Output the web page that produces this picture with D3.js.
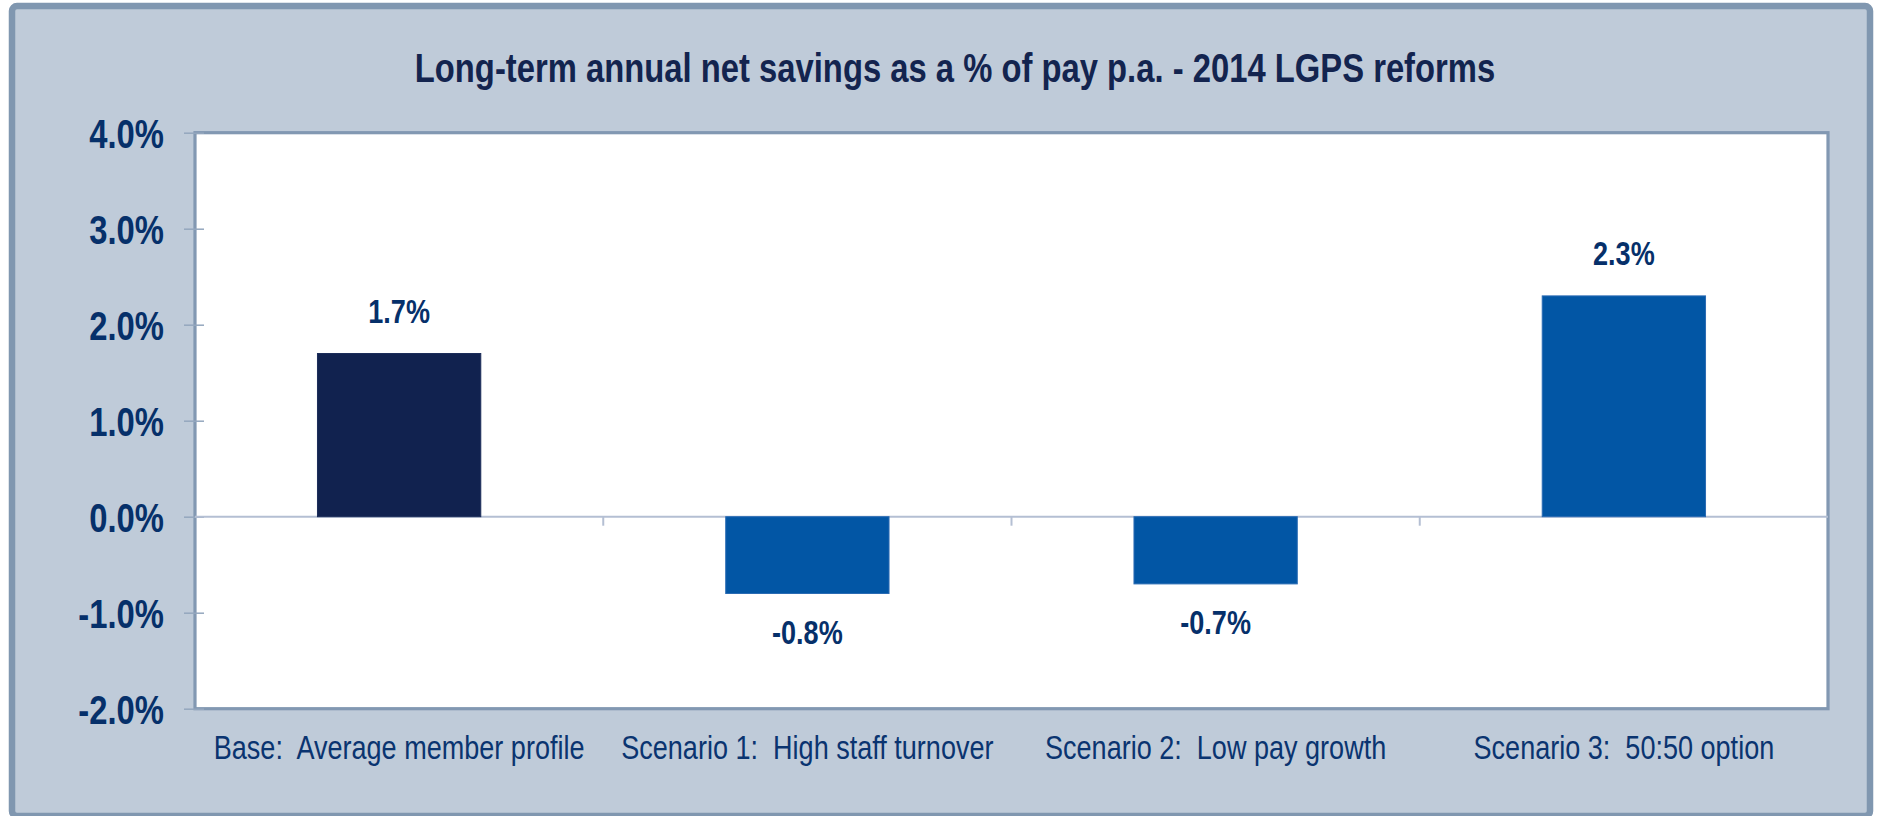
<!DOCTYPE html>
<html>
<head>
<meta charset="utf-8">
<script src="https://cdn.jsdelivr.net/npm/d3@7/dist/d3.min.js"></script>
<style>
  html, body { margin: 0; padding: 0; background: #ffffff; }
  svg { display: block; }
  text { font-family: "Liberation Sans", Arial, sans-serif; }
</style>
</head>
<body>
<svg id="chart" width="1878" height="816"></svg>
<script>
// Chart content
const title = "Long-term annual net savings as a % of pay p.a. - 2014 LGPS reforms";
const categories = [
  "Base:  Average member profile",
  "Scenario 1:  High staff turnover",
  "Scenario 2:  Low pay growth",
  "Scenario 3:  50:50 option"
];
const savings = [1.7, -0.8, -0.7, 2.3];          // % of pay p.a.
const yTicks = [4, 3, 2, 1, 0, -1, -2];          // axis ticks, %
const barColors = ["#11224f", "#0256a5", "#0256a5", "#0256a5"];

const svg = d3.select("#chart");
const plot = { left: 195, right: 1828, top: 132.7, bottom: 708.7 };
const NARROW = 0.82;   // horizontal squeeze giving a narrow sans face

const pct = d => d3.format(".1f")(d).replace("\u2212", "-") + "%";

// squeeze text horizontally about its anchor point
function condense(sel) {
  sel.each(function () {
    const t = d3.select(this);
    const tx = +t.attr("x") || 0, ty = +t.attr("y") || 0;
    t.attr("x", 0).attr("y", 0)
     .attr("transform", `translate(${tx},${ty}) scale(${NARROW},1)`);
  });
}

// outer panel
svg.append("rect")
  .attr("x", 12).attr("y", 6)
  .attr("width", 1858).attr("height", 810)
  .attr("rx", 5)
  .attr("fill", "#bfcbd9")
  .attr("stroke", "#8097b0")
  .attr("stroke-width", 6.5);

// title
svg.append("text")
  .attr("x", 955).attr("y", 82)
  .attr("text-anchor", "middle")
  .attr("font-weight", "bold")
  .attr("font-size", 40)
  .attr("fill", "#13244f")
  .text(title)
  .call(condense);

const x = d3.scaleBand()
  .domain(categories)
  .range([plot.left, plot.right])
  .paddingInner(0.6)
  .paddingOuter(0.3);

const y = d3.scaleLinear()
  .domain([-2, 4])
  .range([plot.bottom, plot.top]);

// plot area
svg.append("rect")
  .attr("x", plot.left).attr("y", plot.top)
  .attr("width", plot.right - plot.left)
  .attr("height", plot.bottom - plot.top)
  .attr("fill", "#ffffff")
  .attr("stroke", "#8298b2")
  .attr("stroke-width", 3.2);

// y axis ticks and labels
const yAxis = d3.axisLeft(y)
  .tickValues(yTicks)
  .tickSize(10)
  .tickPadding(21)
  .tickFormat(pct);

const yg = svg.append("g")
  .attr("transform", `translate(${plot.left},0)`)
  .call(yAxis);
yg.select(".domain").remove();
yg.selectAll(".tick line")
  .attr("x1", -11).attr("x2", 9)
  .attr("stroke", "#94a7be").attr("stroke-width", 1.5);
yg.selectAll(".tick text")
  .attr("font-family", null)
  .attr("font-size", 40)
  .attr("font-weight", "bold")
  .attr("fill", "#06306a")
  .attr("dy", "0.36em")
  .call(condense);

// zero line with category separators
svg.append("line")
  .attr("x1", plot.left).attr("x2", plot.right)
  .attr("y1", y(0)).attr("y2", y(0))
  .attr("stroke", "#b4bfd3").attr("stroke-width", 2);

const separators = categories.slice(1).map(c => x(c) - x.step() * x.paddingInner() / 2);
svg.selectAll(".sep")
  .data(separators)
  .enter().append("line")
  .attr("x1", d => d).attr("x2", d => d)
  .attr("y1", y(0)).attr("y2", y(0) + 9)
  .attr("stroke", "#b4bfd3").attr("stroke-width", 2);

// bars
svg.selectAll(".bar")
  .data(savings)
  .enter().append("rect")
  .attr("x", (d, i) => x(categories[i]))
  .attr("width", x.bandwidth())
  .attr("y", d => y(Math.max(0, d)))
  .attr("height", d => Math.abs(y(d) - y(0)))
  .attr("fill", (d, i) => barColors[i])
  .attr("stroke", (d, i) => i === 0 ? "#1c2d5a" : "#2a6bb3")
  .attr("stroke-width", 1);

// value labels
svg.selectAll(".val")
  .data(savings)
  .enter().append("text")
  .attr("x", (d, i) => x(categories[i]) + x.bandwidth() / 2)
  .attr("y", d => d >= 0 ? y(d) - 31 : y(d) + 50)
  .attr("text-anchor", "middle")
  .attr("font-weight", "bold")
  .attr("font-size", 33)
  .attr("fill", "#06306a")
  .text(pct)
  .call(condense);

// category labels
svg.selectAll(".cat")
  .data(categories)
  .enter().append("text")
  .attr("x", d => x(d) + x.bandwidth() / 2)
  .attr("y", 759)
  .attr("text-anchor", "middle")
  .attr("font-size", 33)
  .attr("fill", "#0a3470")
  .style("white-space", "pre")
  .text(d => d)
  .call(condense);
</script>
</body>
</html>
